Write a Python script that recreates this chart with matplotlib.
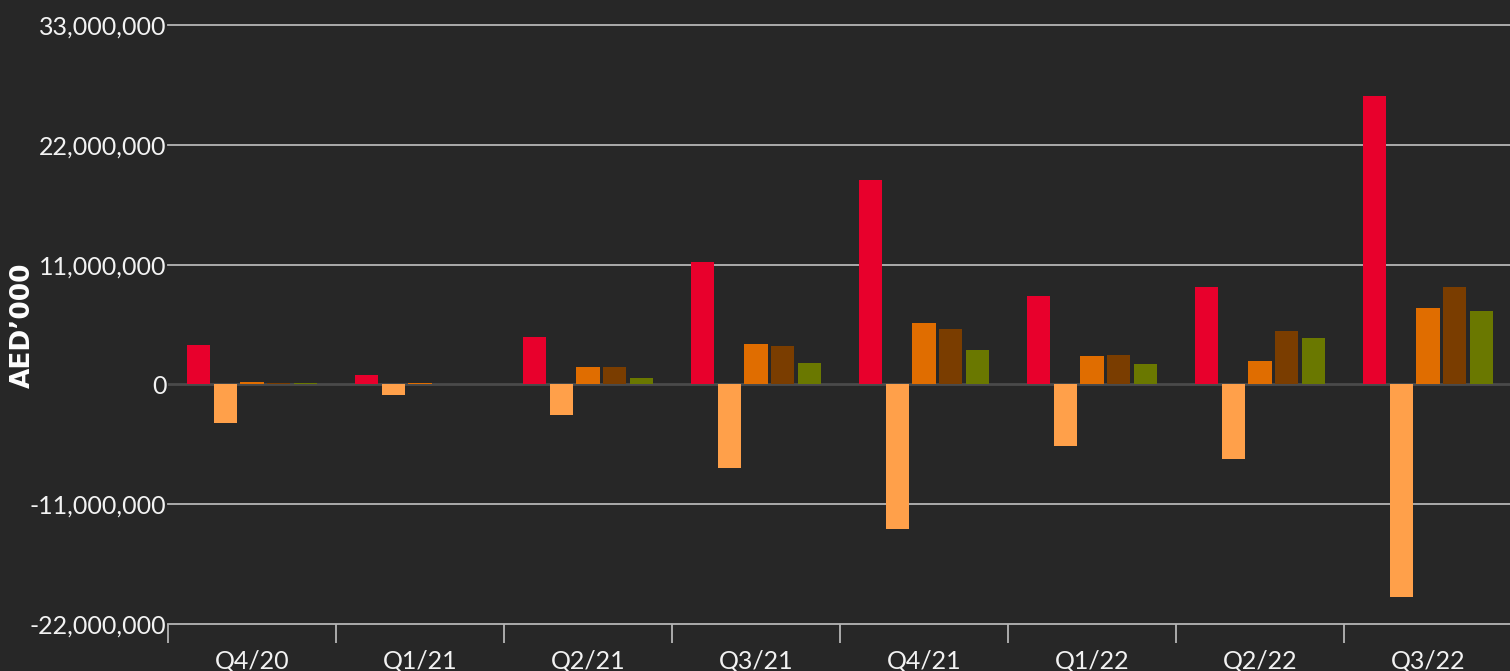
import numpy as np
import matplotlib
matplotlib.use("Agg")
import matplotlib.pyplot as plt
from matplotlib.ticker import FuncFormatter, FixedLocator

quarters = ['Q4/20', 'Q1/21', 'Q2/21', 'Q3/21', 'Q4/21', 'Q1/22', 'Q2/22', 'Q3/22']

# values in AED'000
s_red = [3650000, 870000, 4350000, 11200000, 18750000, 8100000, 8940000, 26500000]
s_light = [-3500000, -1000000, -2850000, -7650000, -13250000, -5640000, -6830000, -19500000]
s_orange = [250000, 120000, 1600000, 3700000, 5640000, 2600000, 2150000, 7060000]
s_brown = [110000, 80000, 1600000, 3530000, 5090000, 2700000, 4900000, 8980000]
s_green = [110000, 80000, 600000, 1970000, 3160000, 1880000, 4260000, 6780000]

series = [s_red, s_light, s_orange, s_brown, s_green]
colors = ['#E8002C', '#FFA04A', '#E06D00', '#7A3D00', '#6A7800']

yticks = [-22000000, -11000000, 0, 11000000, 22000000, 33000000]

bg = '#272727'
fg = '#F2F2F2'
grid_c = '#B5B5B5'

plt.rcParams['font.family'] = ['Lato', 'DejaVu Sans']

fig = plt.figure(figsize=(15.1, 6.71), dpi=100, facecolor=bg)
ax = fig.add_axes([168/1510, 47/671, 1344/1510, 599/671])
ax.set_facecolor(bg)

x = np.arange(len(quarters))
step = 0.159
width = 0.137
for i, (vals, c) in enumerate(zip(series, colors)):
    ax.bar(x + (i - 2) * step, vals, width=width, color=c, zorder=3)

ax.set_xlim(-0.5, len(quarters) - 0.5)
ax.set_ylim(yticks[0], yticks[-1])

# gridlines
for t in yticks:
    if t == 0:
        ax.axhline(t, color='#4A4A4A', lw=2.0, zorder=2)
    else:
        ax.axhline(t, color=grid_c, lw=1.3, zorder=1, clip_on=False)

for s in ax.spines.values():
    s.set_visible(False)

ax.set_yticks(yticks)
ax.yaxis.set_major_formatter(FuncFormatter(lambda v, p: f'{int(v):,}'))
ax.tick_params(axis='y', length=0, pad=1, labelsize=18, labelcolor=fg)

# category boundaries as major ticks, labels on minor ticks
ax.xaxis.set_major_locator(FixedLocator(np.arange(-0.5, len(quarters), 1.0)))
ax.xaxis.set_major_formatter(FuncFormatter(lambda v, p: ''))
ax.xaxis.set_minor_locator(FixedLocator(x))
ax.set_xticklabels(quarters, minor=True)
ax.tick_params(axis='x', which='major', length=14, width=1.3, color=grid_c)
ax.tick_params(axis='x', which='minor', length=0, pad=18, labelsize=18, labelcolor=fg)

fig.text(23/1510, 1 - 325/671, 'AED\u2019000', rotation=90, ha='center', va='center',
         fontsize=19, fontweight='bold', color='white', family='DejaVu Sans')

fig.savefig('out.png', dpi=100, facecolor=bg)
